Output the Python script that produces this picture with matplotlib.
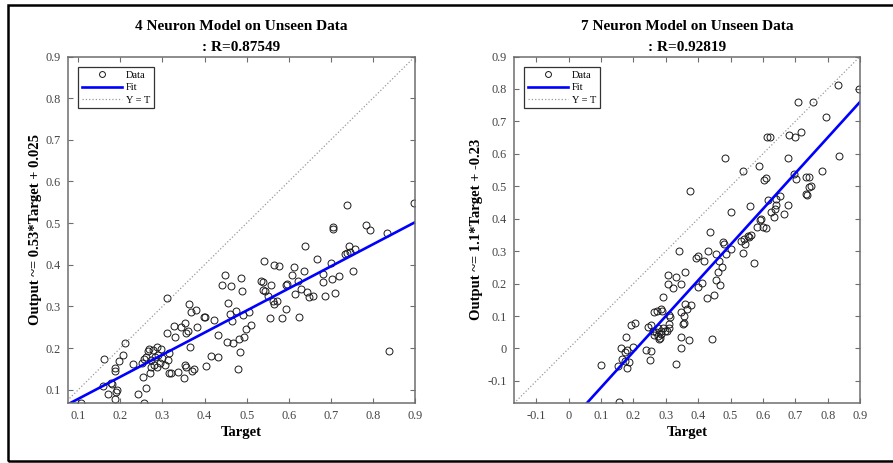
import matplotlib

# Pas d'interface graphique
matplotlib.use('Agg')
import matplotlib.pyplot as plt
from matplotlib.patches import Rectangle

plt.rcParams['font.family'] = ['Liberation Serif', 'DejaVu Serif']

# Modele a 4 neurones : cibles et sorties sur les donnees non vues
cible_4 = [0.107, 0.159, 0.162, 0.170, 0.178, 0.181, 0.187, 0.187, 0.187, 0.190,
           0.193, 0.197, 0.207, 0.212, 0.231, 0.243, 0.253, 0.251, 0.256, 0.257,
           0.260, 0.262, 0.266, 0.268, 0.270, 0.272, 0.273, 0.277, 0.281, 0.283,
           0.288, 0.288, 0.289, 0.293, 0.296, 0.299, 0.305, 0.311, 0.311, 0.313,
           0.315, 0.315, 0.321, 0.327, 0.330, 0.337, 0.345, 0.351, 0.353, 0.354,
           0.357, 0.357, 0.361, 0.362, 0.365, 0.367, 0.369, 0.376, 0.380, 0.383,
           0.399, 0.402, 0.404, 0.416, 0.422, 0.432, 0.432, 0.442, 0.448, 0.456,
           0.454, 0.463, 0.460, 0.465, 0.467, 0.474, 0.479, 0.481, 0.484, 0.486,
           0.490, 0.491, 0.494, 0.498, 0.506, 0.510, 0.533, 0.540, 0.542, 0.540,
           0.544, 0.551, 0.555, 0.559, 0.562, 0.565, 0.565, 0.571, 0.578, 0.583,
           0.593, 0.593, 0.597, 0.607, 0.612, 0.616, 0.621, 0.625, 0.629, 0.636,
           0.639, 0.644, 0.647, 0.658, 0.668, 0.681, 0.682, 0.686, 0.700, 0.703,
           0.704, 0.704, 0.711, 0.720, 0.734, 0.738, 0.739, 0.742, 0.746, 0.752,
           0.757, 0.783, 0.793, 0.834, 0.838, 0.898]
sortie_4 = [0.069, 0.110, 0.174, 0.090, 0.117, 0.114, 0.153, 0.144, 0.078, 0.095,
            0.099, 0.169, 0.184, 0.213, 0.162, 0.090, 0.130, 0.163, 0.173, 0.069,
            0.104, 0.179, 0.192, 0.197, 0.141, 0.171, 0.155, 0.195, 0.159, 0.179,
            0.202, 0.154, 0.183, 0.163, 0.197, 0.175, 0.159, 0.319, 0.237, 0.171,
            0.189, 0.141, 0.141, 0.253, 0.226, 0.143, 0.250, 0.127, 0.259, 0.159,
            0.155, 0.235, 0.242, 0.306, 0.203, 0.287, 0.146, 0.149, 0.291, 0.250,
            0.275, 0.275, 0.157, 0.181, 0.267, 0.178, 0.231, 0.351, 0.375, 0.309,
            0.215, 0.349, 0.282, 0.266, 0.212, 0.290, 0.150, 0.222, 0.190, 0.368,
            0.338, 0.280, 0.226, 0.245, 0.286, 0.256, 0.360, 0.358, 0.408, 0.340,
            0.336, 0.326, 0.272, 0.352, 0.312, 0.306, 0.399, 0.314, 0.397, 0.272,
            0.293, 0.352, 0.354, 0.376, 0.394, 0.330, 0.362, 0.274, 0.342, 0.384,
            0.446, 0.334, 0.322, 0.325, 0.414, 0.378, 0.358, 0.324, 0.405, 0.366,
            0.490, 0.486, 0.333, 0.373, 0.426, 0.544, 0.429, 0.446, 0.430, 0.385,
            0.437, 0.496, 0.484, 0.476, 0.194, 0.549]

# Modele a 7 neurones
cible_7 = [0.100, 0.152, 0.155, 0.162, 0.165, 0.175, 0.175, 0.178, 0.181, 0.181,
           0.186, 0.191, 0.198, 0.204, 0.239, 0.245, 0.251, 0.255, 0.255, 0.260,
           0.265, 0.265, 0.270, 0.272, 0.275, 0.275, 0.280, 0.282, 0.285, 0.285,
           0.285, 0.288, 0.291, 0.291, 0.296, 0.303, 0.306, 0.306, 0.309, 0.311,
           0.311, 0.313, 0.321, 0.330, 0.332, 0.340, 0.347, 0.347, 0.347, 0.348,
           0.352, 0.355, 0.357, 0.360, 0.360, 0.365, 0.373, 0.378, 0.376, 0.393,
           0.400, 0.401, 0.412, 0.417, 0.426, 0.429, 0.437, 0.443, 0.450, 0.455,
           0.455, 0.460, 0.467, 0.463, 0.475, 0.477, 0.480, 0.482, 0.486, 0.501,
           0.502, 0.532, 0.537, 0.537, 0.542, 0.545, 0.553, 0.558, 0.561, 0.563,
           0.573, 0.583, 0.589, 0.592, 0.594, 0.599, 0.602, 0.609, 0.610, 0.612,
           0.617, 0.622, 0.625, 0.633, 0.638, 0.641, 0.641, 0.653, 0.664, 0.677,
           0.679, 0.682, 0.695, 0.698, 0.702, 0.708, 0.718, 0.733, 0.733, 0.735,
           0.741, 0.743, 0.749, 0.756, 0.782, 0.795, 0.833, 0.836, 0.896]
sortie_7 = [-0.051, -0.055, -0.165, 0.000, -0.033, -0.012, -0.038, 0.036, -0.004, -0.059,
            -0.041, 0.072, 0.006, 0.080, -0.004, 0.066, -0.035, -0.007, 0.071, 0.055,
            0.043, 0.112, 0.050, 0.117, 0.037, 0.064, 0.030, 0.033, 0.045, 0.055,
            0.122, 0.115, 0.064, 0.160, 0.053, 0.055, 0.225, 0.199, 0.076, 0.064,
            0.102, 0.097, 0.187, 0.220, -0.049, 0.301, 0.112, 0.199, 0.035, 0.003,
            0.076, 0.099, 0.080, 0.138, 0.235, 0.122, 0.027, 0.133, 0.484, 0.280,
            0.284, 0.189, 0.202, 0.270, 0.156, 0.299, 0.358, 0.028, 0.164, 0.290,
            0.210, 0.235, 0.197, 0.269, 0.251, 0.328, 0.321, 0.588, 0.292, 0.307,
            0.421, 0.331, 0.547, 0.293, 0.338, 0.322, 0.348, 0.343, 0.439, 0.350,
            0.265, 0.376, 0.564, 0.395, 0.400, 0.373, 0.518, 0.372, 0.525, 0.652,
            0.457, 0.652, 0.421, 0.405, 0.431, 0.441, 0.462, 0.469, 0.415, 0.587,
            0.443, 0.657, 0.539, 0.652, 0.523, 0.760, 0.667, 0.528, 0.477, 0.474,
            0.528, 0.498, 0.501, 0.759, 0.546, 0.713, 0.813, 0.592, 0.800]

# Regression affichee : sortie ~= pente*cible + ordonnee
pente_4, ordonnee_4, r_4 = 0.53, 0.025, 0.87549
pente_7, ordonnee_7, r_7 = 1.1, -0.23, 0.92819

lim_x_4, lim_y_4 = (0.0755, 0.9), (0.068, 0.9)
lim_x_7, lim_y_7 = (-0.169, 0.9), (-0.168, 0.9)
ticks_4 = [0.1, 0.2, 0.3, 0.4, 0.5, 0.6, 0.7, 0.8, 0.9]
ticks_7 = [-0.1, 0, 0.1, 0.2, 0.3, 0.4, 0.5, 0.6, 0.7, 0.8, 0.9]

gris_axe = '#6e6e6e'


def trace_regression(ax, cible, sortie, pente, ordonnee, r, nb_neurones, lim_x, lim_y, ticks):
    ax.plot(cible, sortie, 'o', mfc='none', mec='#1a1a1a', ms=5.0, mew=0.7, label='Data')
    xs = [lim_x[0], lim_x[1]]
    ax.plot(xs, [pente * x + ordonnee for x in xs], color='#0000ff', lw=1.9, label='Fit')
    lo = min(lim_x[0], lim_y[0])
    ax.plot([lo, 0.9], [lo, 0.9], ':', color='#9a9a9a', lw=0.9, label='Y = T')

    ax.set_xlim(lim_x)
    ax.set_ylim(lim_y)
    ax.set_xticks(ticks)
    ax.set_yticks(ticks)
    ax.set_xticklabels([f"{t:g}" for t in ticks])
    ax.set_yticklabels([f"{t:g}" for t in ticks])
    ax.tick_params(direction='in', top=True, right=True, length=3.5, width=0.8,
                   color=gris_axe, labelcolor='#444444', labelsize=8.8, pad=5)
    for s in ax.spines.values():
        s.set_color(gris_axe)
        s.set_linewidth(1.1)

    ax.set_title(f"{nb_neurones} Neuron Model on Unseen Data\n: R={r}",
                 fontsize=11, fontweight='bold', linespacing=1.75, pad=4)
    ax.set_xlabel('Target', fontsize=10.5, fontweight='bold', labelpad=3)
    ax.set_ylabel(f"Output ~= {pente:g}*Target + {ordonnee:g}", fontsize=10.5,
                  fontweight='bold', labelpad=3)

    leg = ax.legend(loc='upper left', fontsize=7.5, fancybox=False, framealpha=1,
                    edgecolor='#333333', borderaxespad=1.0, handlelength=3.8,
                    labelspacing=0.3, borderpad=0.35, handletextpad=0.4,
                    markerscale=0.85)
    leg.get_frame().set_linewidth(0.9)


fig = plt.figure(figsize=(8.93, 4.63), dpi=100)
ax1 = fig.add_axes([68 / 893, 60 / 463, 347 / 893, 346.5 / 463])
ax2 = fig.add_axes([514 / 893, 60 / 463, 346 / 893, 346.5 / 463])

trace_regression(ax1, cible_4, sortie_4, pente_4, ordonnee_4, r_4, 4, lim_x_4, lim_y_4, ticks_4)
trace_regression(ax2, cible_7, sortie_7, pente_7, ordonnee_7, r_7, 7, lim_x_7, lim_y_7, ticks_7)

# Cadre noir autour de la figure
fig.patches.append(Rectangle((8 / 893, 2 / 463), 1.0, 456 / 463, transform=fig.transFigure,
                             fill=False, edgecolor='black', linewidth=1.8, clip_on=False))

fig.savefig('out.png', dpi=100)
